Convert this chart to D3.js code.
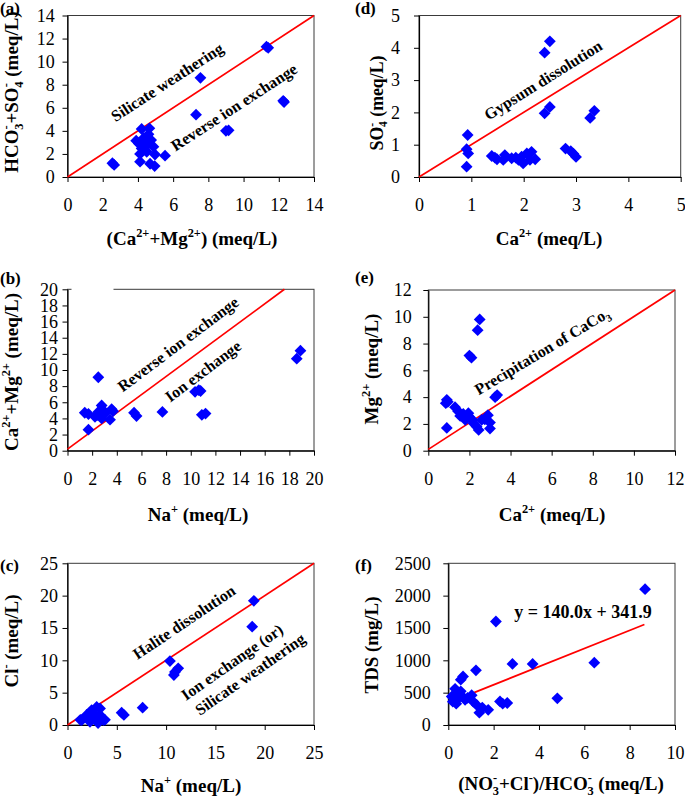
<!DOCTYPE html>
<html><head><meta charset="utf-8">
<script src="https://cdn.jsdelivr.net/npm/d3@7"></script>
<style>
body{margin:0;background:#fff}
svg{display:block}
text{font-family:"Liberation Serif","Times New Roman",serif;fill:#000}
</style>
</head><body>
<svg id="c" width="685" height="803"></svg>
<script>
// ---------------- DATA ----------------
// (a) Ca2+ + Mg2+ vs HCO3- + SO4-
const aCaMg  = [2.55,2.65,4.12,4.21,4.65,3.9,4.05,4.31,4.59,4.88,4.21,4.5,4.12,4.97,5.54,4.69,4.95,4.6,4.75,4.4,7.3,7.55,9.0,9.15,11.3,11.4,12.3,12.25];
const aHCO3SO4=[1.2,1.05,1.33,4.16,4.22,3.15,2.9,3.35,2.92,2.63,2.48,2.19,2.0,1.95,1.85,1.15,0.95,3.7,3.2,2.6,5.4,8.6,4.0,4.05,11.3,11.2,6.5,6.6];
const aTicks = [0,2,4,6,8,10,12,14];
const aLine  = [[0,0],[14,14]];

// (d) Ca2+ vs SO4-
const dCa  = [0.93,0.91,0.94,0.91,1.39,1.49,1.64,1.61,1.77,1.9,1.99,1.96,2.06,2.15,2.12,2.22,1.45,1.85,2.4,2.5,2.4,2.5,2.8,2.9,2.95,3.0,3.27,3.35];
const dSO4 = [1.3,0.86,0.73,0.32,0.65,0.55,0.68,0.53,0.58,0.53,0.42,0.63,0.73,0.78,0.53,0.55,0.6,0.6,3.85,4.2,1.97,2.17,0.88,0.8,0.72,0.62,1.83,2.05];
const dTicks = [0,1,2,3,4,5];
const dLine  = [[0,0],[5,5]];

// (b) Na+ vs Ca2+ + Mg2+
const bNa   = [1.4,1.7,1.7,2.5,2.23,2.5,2.77,2.77,3.04,2.9,3.45,3.58,3.7,2.4,5.4,5.6,7.7,10.35,10.65,10.8,10.9,11.2,18.6,18.9];
const bCaMg = [4.7,4.55,2.6,9.1,4.2,4.8,5.6,4.0,4.6,5.0,3.85,5.15,4.9,4.4,4.7,4.3,4.8,7.3,7.5,7.4,4.45,4.6,11.4,12.4];
const bTicks = [0,2,4,6,8,10,12,14,16,18,20];
const bLine  = [[0,0.2],[17.6,20]];

// (e) Ca2+ vs Mg2+
const eCa = [0.9,0.85,0.95,0.9,1.3,1.45,1.55,1.7,1.8,1.95,2.0,2.15,2.2,2.35,2.45,2.6,2.75,2.9,3.0,3.0,2.0,2.1,2.4,2.5,3.25,3.35];
const eMg = [3.8,3.55,3.65,1.7,3.25,2.95,2.6,2.75,2.3,2.8,2.5,2.3,2.05,1.8,1.55,2.3,2.35,2.65,2.1,1.65,7.1,6.95,9.0,9.8,4.0,4.15];
const eTicks = [0,2,4,6,8,10,12];
const eLine  = [[0,0.1],[12,12]];

// (c) Na+ vs Cl-
const cNa = [1.3,1.45,1.94,2.45,2.96,2.8,3.29,3.63,2.28,3.1,3.3,3.8,2.6,2.2,5.49,5.72,7.62,10.39,10.79,10.9,11.23,18.73,18.9];
const cCl = [0.8,0.75,1.55,2.3,2.8,1.05,1.55,0.77,0.5,0.3,2.55,0.8,1.8,1.2,1.9,1.55,2.68,9.89,7.73,8.2,8.76,15.2,19.2];
const cTicks = [0,5,10,15,20,25];
const cLine  = [[0,0],[25,25]];

// (f) (NO3- + Cl-)/HCO3- vs TDS
const fRatio = [0.2,0.15,0.3,0.3,0.35,0.44,0.5,0.55,0.6,0.55,0.65,0.74,0.85,1.03,1.1,1.22,1.25,1.37,1.5,1.76,2.1,2.28,2.4,2.6,2.83,3.72,4.81,6.44,8.68];
const fTDS   = [360,440,470,560,330,490,430,520,450,700,750,390,420,460,360,845,310,190,270,235,1600,365,330,340,945,945,412,963,2100];
const fXTicks = [0,2,4,6,8,10];
const fYTicks = [0,500,1000,1500,2000,2500];
const fSlope = 140.0, fIntercept = 341.9, fFitRange = [0.25,8.65];

// ---------------- DRAWING ----------------
const svg = d3.select('#c');
const TICK_FS = 18, TITLE_FS = 19, ANN_FS = 16;

function rich(sel, parts, size){
  sel.selectAll('tspan').remove();
  let cur = 0;
  parts.forEach(([s,k])=>{
    k = k || 'n';
    const t = sel.append('tspan').text(s);
    let target = 0, fs = size;
    if(k==='sup'){ target = -0.42*size; fs = size*0.65; }
    else if(k==='sub' || k==='subS'){ target = 0.25*size; fs = size*0.65; }
    t.attr('font-size', fs).attr('dy', target-cur);
    if(k==='subS') t.attr('dx', -0.36*fs);
    cur = target;
  });
}

function diamond(r){ return `M0,${-r}L${r},0L0,${r}L${-r},0Z`; }

function panel(cfg){
  const x = d3.scaleLinear().domain(cfg.xd).range([cfg.l,cfg.r]);
  const y = d3.scaleLinear().domain(cfg.yd).range([cfg.b,cfg.t]);
  const g = svg.append('g');
  // frame
  g.append('rect').attr('x',cfg.l).attr('y',cfg.t).attr('width',cfg.r-cfg.l).attr('height',cfg.b-cfg.t)
    .attr('fill','none').attr('stroke','#3a3a3a').attr('stroke-width',1);
  if(cfg.gap){
    g.append('rect').attr('x',cfg.gap[0]).attr('y',cfg.t-1.5).attr('width',cfg.gap[1]-cfg.gap[0]).attr('height',3).attr('fill','#fff');
  }
  // axes
  const ax = g.append('g').attr('transform',`translate(0,${cfg.b})`)
    .call(d3.axisBottom(x).tickValues(cfg.xt).tickSize(5).tickPadding(16.5).tickSizeOuter(0).tickFormat(d3.format('d')));
  const ay = g.append('g').attr('transform',`translate(${cfg.l},0)`)
    .call(d3.axisLeft(y).tickValues(cfg.yt).tickSize(5).tickPadding(cfg.ypad).tickSizeOuter(0).tickFormat(d3.format('d')));
  [ax,ay].forEach(a=>{
    a.select('.domain').attr('stroke','#000').attr('stroke-width',1.2);
    a.selectAll('.tick line').attr('stroke','#000');
    a.selectAll('.tick text').attr('font-size',TICK_FS).attr('font-family','"Liberation Serif",serif').attr('fill','#000');
  });
  // reference / fit line
  g.append('line').attr('x1',x(cfg.line[0][0])).attr('y1',y(cfg.line[0][1]))
    .attr('x2',x(cfg.line[1][0])).attr('y2',y(cfg.line[1][1]))
    .attr('stroke','#ff0000').attr('stroke-width',1.7);
  // points
  g.selectAll('path.pt').data(cfg.xs.map((v,i)=>[v,cfg.ys[i]])).join('path')
    .attr('class','pt').attr('d',diamond(5.9))
    .attr('transform',d=>`translate(${x(d[0])},${y(d[1])})`)
    .attr('fill','#0000ff');
  // panel label
  g.append('text').attr('x',cfg.lab[0]).attr('y',cfg.lab[1]).attr('font-size',17).attr('font-weight','bold').text(cfg.label);
  // x title
  const xt = g.append('text').attr('x',cfg.xtitle[0]).attr('y',cfg.xtitle[1]).attr('text-anchor','middle')
    .attr('font-weight','bold').attr('font-size',TITLE_FS);
  rich(xt, cfg.xparts, TITLE_FS);
  // y title (fitted to the length it has in the reference)
  const yt = g.append('text').attr('transform',`translate(${cfg.ytitle[0]},${cfg.ytitle[1]}) rotate(-90)`)
    .attr('text-anchor','middle').attr('font-weight','bold').attr('font-size',TITLE_FS);
  rich(yt, cfg.yparts, TITLE_FS);
  if(cfg.ylen){
    const w = yt.node().getBBox().width;
    if(w > 0){
      const fs = Math.min(TITLE_FS, TITLE_FS*cfg.ylen/w);
      yt.attr('font-size',fs);
      rich(yt, cfg.yparts, fs);
    }
  }
  // annotations
  (cfg.ann||[]).forEach(a=>{
    const t = g.append('text').attr('transform',`translate(${a.c[0]},${a.c[1]}) rotate(${-a.ang})`)
      .attr('text-anchor','middle').attr('y',0.35*(a.fs||ANN_FS)).attr('font-weight','bold').attr('font-size',a.fs||ANN_FS);
    rich(t, a.parts, a.fs||ANN_FS);
  });
  return {x,y,g};
}

const CA = [['Ca'],['2+','sup'],[' (meq/L)']];
const NA = [['Na'],['+','sup'],[' (meq/L)']];

panel({l:67.5,r:314,t:15.5,b:177,xd:[0,14],yd:[0,14],xt:aTicks,yt:aTicks,ypad:7.7,
  xs:aCaMg,ys:aHCO3SO4,line:aLine,label:'(a)',lab:[0,14],
  xtitle:[192,245],xparts:[['(Ca'],['2+','sup'],['+Mg'],['2+','sup'],[') (meq/L)']],
  ytitle:[18,92],ylen:174,yparts:[['HCO'],['-','sup'],['3','subS'],['+SO'],['-','sup'],['4','subS'],[' (meq/L)']],
  ann:[{c:[167,82],ang:33,parts:[['Silicate weathering']]},{c:[234,107],ang:33,parts:[['Reverse ion exchange']]}]});

panel({l:419,r:680.7,t:15.5,b:177,xd:[0,5],yd:[0,5],xt:dTicks,yt:dTicks,ypad:14,
  xs:dCa,ys:dSO4,line:dLine,label:'(d)',lab:[355,14],
  xtitle:[549,245],xparts:CA,
  ytitle:[383,103],ylen:95,yparts:[['SO'],['-','sup'],['4','subS'],[' (meq/L)']],
  ann:[{c:[543,80],ang:32,parts:[['Gypsum dissolution']]}]});

panel({l:67.5,r:314,t:289.3,b:450.7,xd:[0,20],yd:[0,20],xt:bTicks,yt:bTicks,ypad:4.4,
  xs:bNa,ys:bCaMg,line:bLine,label:'(b)',lab:[0,284],gap:[71.5,113.5],
  xtitle:[198,521],xparts:NA,
  ytitle:[18,372],ylen:166,yparts:[['Ca'],['2+','sup'],['+Mg'],['2+','sup'],[' (meq/L)']],
  ann:[{c:[178,344],ang:37,parts:[['Reverse ion exchange']]},{c:[203,371],ang:37,parts:[['Ion exchange']]}]});

panel({l:428.3,r:675,t:290,b:450.7,xd:[0,12],yd:[0,12],xt:eTicks,yt:eTicks,ypad:11.6,
  xs:eCa,ys:eMg,line:eLine,label:'(e)',lab:[355,283],
  xtitle:[552,521],xparts:CA,
  ytitle:[378,369],ylen:113,yparts:[['Mg'],['2+','sup'],[' (meq/L)']],
  ann:[{c:[542,351],ang:31,parts:[['Precipitation of CaCo'],['3','sub']]}]});

panel({l:67.5,r:314,t:563.3,b:725,xd:[0,25],yd:[0,25],xt:cTicks,yt:cTicks,ypad:4.4,
  xs:cNa,ys:cCl,line:cLine,label:'(c)',lab:[0,571],
  xtitle:[191,792],xparts:NA,
  ytitle:[18,641],ylen:93,yparts:[['Cl'],['-','sup'],[' (meq/L)']],
  ann:[{c:[184,622],ang:34,parts:[['Halite dissolution']]},
       {c:[232,662],ang:35,parts:[['Ion exchange (or)']]},
       {c:[250,674],ang:35,parts:[['Silicate weathering']]}]});

const fLine = fFitRange.map(v=>[v, fSlope*v+fIntercept]);
panel({l:448.3,r:675,t:563.3,b:725,xd:[0,10],yd:[0,2500],xt:fXTicks,yt:fYTicks,ypad:12.6,
  xs:fRatio,ys:fTDS,line:fLine,label:'(f)',lab:[355,571],
  xtitle:[561,790],xparts:[['(NO'],['-','sup'],['3','subS'],['+Cl'],['-','sup'],[')/HCO'],['-','sup'],['3','subS'],[' (meq/L)']],
  ytitle:[378,645],ylen:97,yparts:[['TDS (mg/L)']],
  ann:[{c:[583,612],ang:0,fs:18,parts:[[`y = ${fSlope.toFixed(1)}x + ${fIntercept.toFixed(1)}`]]}]});
</script>
</body></html>
